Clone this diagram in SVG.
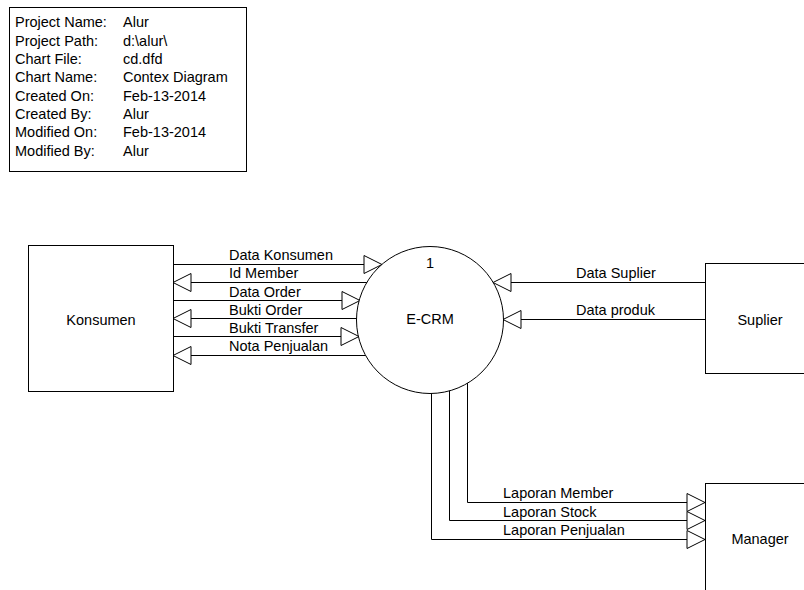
<svg xmlns="http://www.w3.org/2000/svg" width="804" height="590" viewBox="0 0 804 590">
<style>
text{font-family:"Liberation Sans",Arial,sans-serif;font-size:14.5px;fill:#000}
.c{text-anchor:middle}
.box{fill:#fff;stroke:#000;stroke-width:1}
.flow{fill:none;stroke:#000;stroke-width:1;marker-end:url(#ah)}
</style>
<defs>
<marker id="ah" markerUnits="userSpaceOnUse" markerWidth="20" markerHeight="20" refX="18" refY="9" orient="auto" viewBox="-1 -1 20 20">
<path d="M0,0 L18,9 L0,18 Z" fill="#fff" stroke="#000" stroke-width="1"/>
</marker>
</defs>
<rect width="804" height="590" fill="#fff"/>
<g id="info">
<rect class="box" x="9.5" y="7.5" width="237" height="164"/>
<text x="15" y="27">Project Name:</text><text x="123" y="27">Alur</text>
<text x="15" y="45.5">Project Path:</text><text x="123" y="45.5">d:\alur\</text>
<text x="15" y="64">Chart File:</text><text x="123" y="64">cd.dfd</text>
<text x="15" y="82">Chart Name:</text><text x="123" y="82">Contex Diagram</text>
<text x="15" y="100.5">Created On:</text><text x="123" y="100.5">Feb-13-2014</text>
<text x="15" y="119">Created By:</text><text x="123" y="119">Alur</text>
<text x="15" y="137">Modified On:</text><text x="123" y="137">Feb-13-2014</text>
<text x="15" y="155.5">Modified By:</text><text x="123" y="155.5">Alur</text>
</g>
<g id="connectors">
<path class="flow" d="M173,264.5 H382"/>
<path class="flow" d="M368,282.5 H173"/>
<path class="flow" d="M173,300.5 H360"/>
<path class="flow" d="M357,318.5 H173"/>
<path class="flow" d="M173,336.5 H359"/>
<path class="flow" d="M366,355.5 H173"/>
<path class="flow" d="M705,282.5 H493"/>
<path class="flow" d="M705,319.5 H503"/>
<path class="flow" d="M467.5,383 V502.5 H705"/>
<path class="flow" d="M449.5,390 V520.5 H705"/>
<path class="flow" d="M431.5,393 V539.5 H705"/>
<text x="229" y="260">Data Konsumen</text>
<text x="229" y="278">Id Member</text>
<text x="229" y="296.5">Data Order</text>
<text x="229" y="314.5">Bukti Order</text>
<text x="229" y="332.5">Bukti Transfer</text>
<text x="229" y="351">Nota Penjualan</text>
<text x="576" y="278">Data Suplier</text>
<text x="576" y="315">Data produk</text>
<text x="503" y="498">Laporan Member</text>
<text x="503" y="516.5">Laporan Stock</text>
<text x="503" y="535">Laporan Penjualan</text>
</g>
<g id="konsumen">
<rect class="box" x="28.5" y="245.5" width="145" height="146"/>
<text class="c" x="101" y="325">Konsumen</text>
</g>
<g id="ecrm">
<circle class="box" cx="430" cy="320" r="73.5"/>
<text class="c" x="430" y="268">1</text>
<text class="c" x="430" y="324">E-CRM</text>
</g>
<g id="suplier">
<rect class="box" x="705.5" y="263.5" width="110" height="110"/>
<text class="c" x="760" y="325">Suplier</text>
</g>
<g id="manager">
<rect class="box" x="705.5" y="483.5" width="110" height="120"/>
<text class="c" x="760" y="544">Manager</text>
</g>
</svg>
